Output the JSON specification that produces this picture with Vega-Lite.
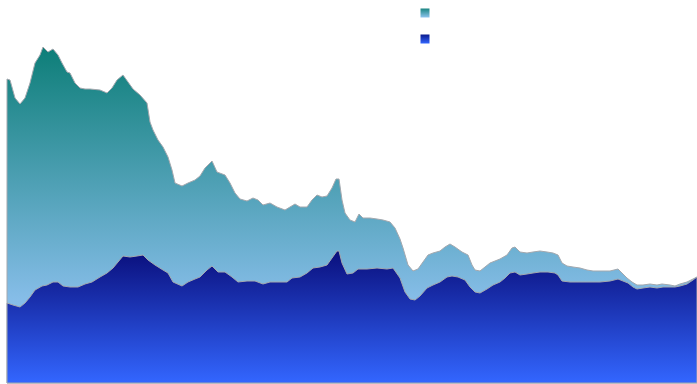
{
"$schema": "https://vega.github.io/schema/vega-lite/v6.json",
"width": 690, "height": 383,
"autosize": {"type": "none"},
"padding": {"left": 7, "top": 0, "right": 0, "bottom": 1},
"config": {"view": {"stroke": null}},
"data": {"values": [
{"x":7,"v":304,"series":"upper"},{"x":10,"v":303,"series":"upper"},{"x":15,"v":285,"series":"upper"},{"x":20,"v":279,"series":"upper"},{"x":25,"v":285,"series":"upper"},{"x":30,"v":300,"series":"upper"},{"x":35,"v":320,"series":"upper"},{"x":40,"v":328,"series":"upper"},{"x":43,"v":336,"series":"upper"},{"x":48,"v":331,"series":"upper"},{"x":53,"v":334,"series":"upper"},{"x":58,"v":328,"series":"upper"},{"x":62,"v":320,"series":"upper"},{"x":67,"v":311,"series":"upper"},{"x":70,"v":310,"series":"upper"},{"x":75,"v":300,"series":"upper"},{"x":80,"v":295,"series":"upper"},{"x":85,"v":294,"series":"upper"},{"x":90,"v":294,"series":"upper"},{"x":100,"v":293,"series":"upper"},{"x":107,"v":290,"series":"upper"},{"x":112,"v":295,"series":"upper"},{"x":117,"v":303,"series":"upper"},{"x":123,"v":308,"series":"upper"},{"x":128,"v":301,"series":"upper"},{"x":133,"v":294,"series":"upper"},{"x":140,"v":288,"series":"upper"},{"x":147,"v":280,"series":"upper"},{"x":150,"v":261,"series":"upper"},{"x":153,"v":253,"series":"upper"},{"x":158,"v":243,"series":"upper"},{"x":163,"v":236,"series":"upper"},{"x":168,"v":226,"series":"upper"},{"x":172,"v":213,"series":"upper"},{"x":175,"v":200,"series":"upper"},{"x":182,"v":197,"series":"upper"},{"x":188,"v":200,"series":"upper"},{"x":195,"v":203,"series":"upper"},{"x":200,"v":207,"series":"upper"},{"x":205,"v":215,"series":"upper"},{"x":212,"v":222,"series":"upper"},{"x":217,"v":211,"series":"upper"},{"x":225,"v":208,"series":"upper"},{"x":230,"v":200,"series":"upper"},{"x":235,"v":190,"series":"upper"},{"x":240,"v":184,"series":"upper"},{"x":247,"v":182,"series":"upper"},{"x":253,"v":185,"series":"upper"},{"x":258,"v":183,"series":"upper"},{"x":263,"v":178,"series":"upper"},{"x":270,"v":180,"series":"upper"},{"x":277,"v":176,"series":"upper"},{"x":285,"v":173,"series":"upper"},{"x":290,"v":176,"series":"upper"},{"x":295,"v":179,"series":"upper"},{"x":300,"v":176,"series":"upper"},{"x":307,"v":176,"series":"upper"},{"x":312,"v":183,"series":"upper"},{"x":317,"v":188,"series":"upper"},{"x":322,"v":186,"series":"upper"},{"x":327,"v":187,"series":"upper"},{"x":332,"v":195,"series":"upper"},{"x":336,"v":204,"series":"upper"},{"x":339,"v":204,"series":"upper"},{"x":342,"v":183,"series":"upper"},{"x":345,"v":170,"series":"upper"},{"x":350,"v":163,"series":"upper"},{"x":355,"v":161,"series":"upper"},{"x":359,"v":169,"series":"upper"},{"x":363,"v":165,"series":"upper"},{"x":370,"v":165,"series":"upper"},{"x":377,"v":164,"series":"upper"},{"x":383,"v":163,"series":"upper"},{"x":390,"v":161,"series":"upper"},{"x":395,"v":155,"series":"upper"},{"x":400,"v":144,"series":"upper"},{"x":403,"v":135,"series":"upper"},{"x":408,"v":118,"series":"upper"},{"x":413,"v":112,"series":"upper"},{"x":418,"v":114,"series":"upper"},{"x":423,"v":121,"series":"upper"},{"x":428,"v":128,"series":"upper"},{"x":433,"v":130,"series":"upper"},{"x":440,"v":132,"series":"upper"},{"x":445,"v":136,"series":"upper"},{"x":450,"v":139,"series":"upper"},{"x":455,"v":136,"series":"upper"},{"x":462,"v":131,"series":"upper"},{"x":468,"v":128,"series":"upper"},{"x":472,"v":118,"series":"upper"},{"x":475,"v":113,"series":"upper"},{"x":480,"v":112,"series":"upper"},{"x":485,"v":116,"series":"upper"},{"x":490,"v":120,"series":"upper"},{"x":500,"v":124,"series":"upper"},{"x":507,"v":128,"series":"upper"},{"x":512,"v":135,"series":"upper"},{"x":515,"v":136,"series":"upper"},{"x":520,"v":131,"series":"upper"},{"x":527,"v":130,"series":"upper"},{"x":533,"v":131,"series":"upper"},{"x":540,"v":132,"series":"upper"},{"x":547,"v":131,"series":"upper"},{"x":553,"v":130,"series":"upper"},{"x":558,"v":128,"series":"upper"},{"x":562,"v":120,"series":"upper"},{"x":567,"v":117,"series":"upper"},{"x":573,"v":116,"series":"upper"},{"x":580,"v":115,"series":"upper"},{"x":587,"v":113,"series":"upper"},{"x":593,"v":112,"series":"upper"},{"x":600,"v":112,"series":"upper"},{"x":610,"v":112,"series":"upper"},{"x":618,"v":114,"series":"upper"},{"x":622,"v":110,"series":"upper"},{"x":627,"v":105,"series":"upper"},{"x":632,"v":101,"series":"upper"},{"x":637,"v":98,"series":"upper"},{"x":643,"v":98,"series":"upper"},{"x":650,"v":99,"series":"upper"},{"x":657,"v":98,"series":"upper"},{"x":662,"v":99,"series":"upper"},{"x":670,"v":98,"series":"upper"},{"x":675,"v":97,"series":"upper"},{"x":680,"v":99,"series":"upper"},{"x":687,"v":101,"series":"upper"},{"x":693,"v":104,"series":"upper"},{"x":697,"v":106,"series":"upper"},
{"x":7,"v":80,"series":"lower"},{"x":13,"v":78,"series":"lower"},{"x":20,"v":76,"series":"lower"},{"x":25,"v":80,"series":"lower"},{"x":30,"v":86,"series":"lower"},{"x":35,"v":93,"series":"lower"},{"x":42,"v":97,"series":"lower"},{"x":47,"v":98,"series":"lower"},{"x":53,"v":101,"series":"lower"},{"x":58,"v":101,"series":"lower"},{"x":63,"v":97,"series":"lower"},{"x":70,"v":96,"series":"lower"},{"x":78,"v":96,"series":"lower"},{"x":85,"v":99,"series":"lower"},{"x":92,"v":101,"series":"lower"},{"x":100,"v":106,"series":"lower"},{"x":107,"v":110,"series":"lower"},{"x":113,"v":115,"series":"lower"},{"x":118,"v":121,"series":"lower"},{"x":123,"v":127,"series":"lower"},{"x":130,"v":126,"series":"lower"},{"x":137,"v":127,"series":"lower"},{"x":143,"v":128,"series":"lower"},{"x":148,"v":123,"series":"lower"},{"x":155,"v":118,"series":"lower"},{"x":163,"v":113,"series":"lower"},{"x":168,"v":110,"series":"lower"},{"x":173,"v":101,"series":"lower"},{"x":182,"v":97,"series":"lower"},{"x":188,"v":101,"series":"lower"},{"x":195,"v":104,"series":"lower"},{"x":200,"v":106,"series":"lower"},{"x":207,"v":113,"series":"lower"},{"x":212,"v":117,"series":"lower"},{"x":218,"v":111,"series":"lower"},{"x":225,"v":111,"series":"lower"},{"x":232,"v":106,"series":"lower"},{"x":238,"v":101,"series":"lower"},{"x":247,"v":102,"series":"lower"},{"x":255,"v":102,"series":"lower"},{"x":263,"v":99,"series":"lower"},{"x":270,"v":101,"series":"lower"},{"x":280,"v":101,"series":"lower"},{"x":287,"v":101,"series":"lower"},{"x":292,"v":105,"series":"lower"},{"x":300,"v":106,"series":"lower"},{"x":307,"v":110,"series":"lower"},{"x":313,"v":115,"series":"lower"},{"x":320,"v":116,"series":"lower"},{"x":327,"v":118,"series":"lower"},{"x":332,"v":125,"series":"lower"},{"x":337,"v":132,"series":"lower"},{"x":339,"v":132,"series":"lower"},{"x":342,"v":120,"series":"lower"},{"x":347,"v":109,"series":"lower"},{"x":353,"v":110,"series":"lower"},{"x":358,"v":114,"series":"lower"},{"x":367,"v":114,"series":"lower"},{"x":377,"v":115,"series":"lower"},{"x":387,"v":114,"series":"lower"},{"x":393,"v":115,"series":"lower"},{"x":400,"v":105,"series":"lower"},{"x":405,"v":91,"series":"lower"},{"x":410,"v":84,"series":"lower"},{"x":415,"v":83,"series":"lower"},{"x":420,"v":87,"series":"lower"},{"x":427,"v":95,"series":"lower"},{"x":433,"v":98,"series":"lower"},{"x":440,"v":101,"series":"lower"},{"x":447,"v":106,"series":"lower"},{"x":452,"v":107,"series":"lower"},{"x":458,"v":106,"series":"lower"},{"x":465,"v":103,"series":"lower"},{"x":470,"v":96,"series":"lower"},{"x":475,"v":91,"series":"lower"},{"x":480,"v":90,"series":"lower"},{"x":487,"v":94,"series":"lower"},{"x":493,"v":98,"series":"lower"},{"x":500,"v":101,"series":"lower"},{"x":505,"v":105,"series":"lower"},{"x":510,"v":110,"series":"lower"},{"x":515,"v":111,"series":"lower"},{"x":520,"v":108,"series":"lower"},{"x":527,"v":109,"series":"lower"},{"x":533,"v":110,"series":"lower"},{"x":540,"v":111,"series":"lower"},{"x":548,"v":111,"series":"lower"},{"x":555,"v":110,"series":"lower"},{"x":558,"v":108,"series":"lower"},{"x":562,"v":102,"series":"lower"},{"x":570,"v":101,"series":"lower"},{"x":580,"v":101,"series":"lower"},{"x":590,"v":101,"series":"lower"},{"x":600,"v":101,"series":"lower"},{"x":610,"v":102,"series":"lower"},{"x":618,"v":104,"series":"lower"},{"x":623,"v":102,"series":"lower"},{"x":628,"v":100,"series":"lower"},{"x":633,"v":96,"series":"lower"},{"x":637,"v":94,"series":"lower"},{"x":643,"v":95,"series":"lower"},{"x":650,"v":96,"series":"lower"},{"x":657,"v":95,"series":"lower"},{"x":663,"v":96,"series":"lower"},{"x":670,"v":96,"series":"lower"},{"x":675,"v":96,"series":"lower"},{"x":680,"v":97,"series":"lower"},{"x":687,"v":99,"series":"lower"},{"x":693,"v":103,"series":"lower"},{"x":697,"v":106,"series":"lower"}
]},
"encoding": {
"x": {"field": "x", "type": "quantitative", "scale": {"domain": [7, 697], "nice": false, "zero": false}, "axis": null},
"y": {"field": "v", "type": "quantitative", "scale": {"domain": [0, 383], "nice": false}, "axis": null}
},
"layer": [
{"transform": [{"filter": "datum.series === 'upper'"}],
 "mark": {"type": "area", "stroke": "#a3a8ae", "strokeWidth": 1,
  "color": {"gradient": "linear", "x1": 0, "y1": 0, "x2": 0, "y2": 1, "stops": [{"offset": 0, "color": "#0d7e78"}, {"offset": 0.75, "color": "#86bde8"}, {"offset": 1, "color": "#8ec4ee"}]}}},
{"transform": [{"filter": "datum.series === 'lower'"}],
 "mark": {"type": "area", "stroke": "#a3a8ae", "strokeWidth": 1,
  "color": {"gradient": "linear", "x1": 0, "y1": 0, "x2": 0, "y2": 1, "stops": [{"offset": 0, "color": "#0a0f7c"}, {"offset": 1, "color": "#3366ff"}]}}},
{"transform": [{"filter": "datum.series === 'upper'"}],
 "mark": {"type": "point", "filled": true, "opacity": 0,
  "color": {"gradient": "linear", "x1": 0, "y1": 0, "x2": 0, "y2": 1, "stops": [{"offset": 0, "color": "#1a8582"}, {"offset": 1, "color": "#8ec4ee"}]}},
 "encoding": {
  "shape": {"field": "series", "type": "nominal", "scale": {"range": ["square"]},
   "legend": {"orient": "none", "legendX": 413, "legendY": 8, "title": null, "symbolSize": 81, "symbolStrokeWidth": 0, "symbolOpacity": 1, "labelExpr": "''"}}
 }},
{"transform": [{"filter": "datum.series === 'lower'"}],
 "mark": {"type": "point", "filled": true, "opacity": 0,
  "color": {"gradient": "linear", "x1": 0, "y1": 0, "x2": 0, "y2": 1, "stops": [{"offset": 0, "color": "#0a1a8c"}, {"offset": 1, "color": "#3366ff"}]}},
 "encoding": {
  "shape": {"field": "series", "type": "nominal", "scale": {"range": ["square"]},
   "legend": {"orient": "none", "legendX": 413, "legendY": 34, "title": null, "symbolSize": 81, "symbolStrokeWidth": 0, "symbolOpacity": 1, "labelExpr": "''"}}
 }}
],
"resolve": {"scale": {"shape": "independent"}, "legend": {"shape": "independent"}}
}
